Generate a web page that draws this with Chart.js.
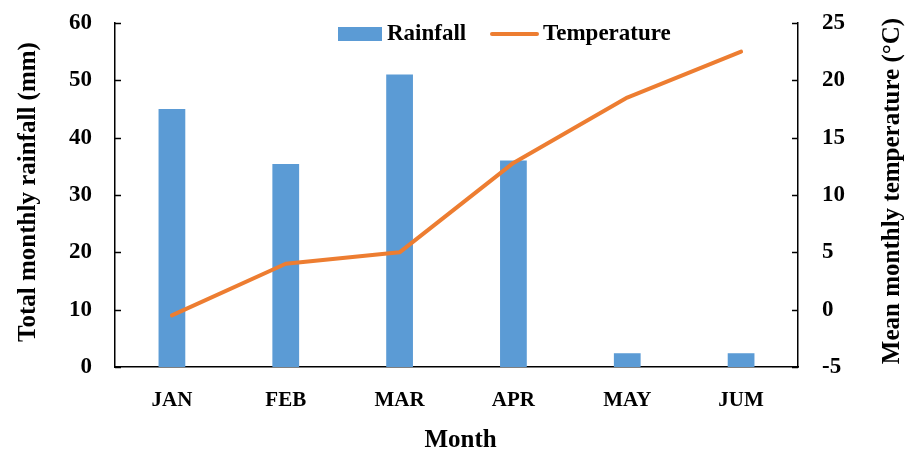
<!DOCTYPE html>
<html>
<head>
<meta charset="utf-8">
<script src="https://cdn.jsdelivr.net/npm/chart.js@4"></script>
<style>
  html, body { margin: 0; padding: 0; background: #fff; }
</style>
</head>
<body>
<canvas id="myChart" width="908" height="455"></canvas>
<script>
// Monthly rainfall (bars, left axis) and mean temperature (line, right axis)
const months = ['JAN', 'FEB', 'MAR', 'APR', 'MAY', 'JUM'];
const rainfall = [45, 35.4, 51, 36, 2.4, 2.4];
const temperature = [-0.5, 4, 5, 12.8, 18.5, 22.5];
const rainTicks = [0, 10, 20, 30, 40, 50, 60];
const tempTicks = [-5, 0, 5, 10, 15, 20, 25];

const FONT = "'Liberation Serif', 'DejaVu Serif', serif";
const BLUE = '#5B9BD5';
const ORANGE = '#ED7D31';

// inward tick marks, axis titles and the legend inside the plot
const decorations = {
    id: 'decorations',
    afterDraw(chart) {
        const ctx = chart.ctx;
        const area = chart.chartArea;
        const y = chart.scales.y;
        const y1 = chart.scales.y1;

        ctx.save();
        ctx.strokeStyle = '#000';
        ctx.lineWidth = 1.5;
        rainTicks.forEach(v => {
            const py = Math.round(y.getPixelForValue(v)) + 0.5;
            ctx.beginPath();
            ctx.moveTo(area.left, py);
            ctx.lineTo(area.left + 6, py);
            ctx.stroke();
        });
        tempTicks.forEach(v => {
            const py = Math.round(y1.getPixelForValue(v)) + 0.5;
            ctx.beginPath();
            ctx.moveTo(area.right - 6, py);
            ctx.lineTo(area.right, py);
            ctx.stroke();
        });

        // axis titles
        ctx.fillStyle = '#000';
        ctx.font = 'bold 25px ' + FONT;
        ctx.textAlign = 'center';
        ctx.textBaseline = 'middle';
        ctx.fillText('Month', (area.left + area.right) / 2 + 4, 441);

        ctx.save();
        ctx.translate(29, 192);
        ctx.rotate(-Math.PI / 2);
        ctx.fillText('Total monthly rainfall (mm)', 0, 0);
        ctx.restore();

        ctx.save();
        ctx.translate(893, 191);
        ctx.rotate(-Math.PI / 2);
        ctx.fillText('Mean monthly temperature (\u00B0C)', 0, 0);
        ctx.restore();

        // legend
        const ds = chart.data.datasets;
        ctx.font = 'bold 23px ' + FONT;
        ctx.textAlign = 'left';
        ctx.fillStyle = ds[1].backgroundColor;
        ctx.fillRect(338, 27, 44, 14);
        ctx.fillStyle = '#000';
        ctx.fillText(ds[1].label, 387, 34);

        ctx.strokeStyle = ds[0].borderColor;
        ctx.lineWidth = 4;
        ctx.lineCap = 'round';
        ctx.beginPath();
        ctx.moveTo(492, 34);
        ctx.lineTo(537, 34);
        ctx.stroke();
        ctx.fillText(ds[0].label, 543, 34);
        ctx.restore();
    }
};

const noOverhang = s => { s.paddingTop = 0; s.paddingBottom = 0; };

const ctx = document.getElementById('myChart').getContext('2d');
const myChart = new Chart(ctx, {
    type: 'bar',
    data: {
        labels: months,
        datasets: [{
            type: 'line',
            label: 'Temperature',
            data: temperature,
            yAxisID: 'y1',
            borderColor: ORANGE,
            backgroundColor: ORANGE,
            borderWidth: 4,
            borderCapStyle: 'round',
            borderJoinStyle: 'round',
            pointRadius: 0,
            tension: 0,
            order: 0
        }, {
            type: 'bar',
            label: 'Rainfall',
            data: rainfall,
            yAxisID: 'y',
            backgroundColor: BLUE,
            categoryPercentage: 1,
            barPercentage: 0.235,
            order: 1
        }]
    },
    options: {
        responsive: false,
        animation: false,
        devicePixelRatio: 1,
        layout: { padding: { top: 23, left: 0, right: 0, bottom: 0 } },
        plugins: {
            legend: { display: false },
            tooltip: { enabled: false }
        },
        scales: {
            x: {
                grid: { display: false, drawTicks: false },
                border: { display: true, color: '#000', width: 1.5 },
                ticks: { color: '#000', padding: 21, font: { family: FONT, size: 21, weight: 'bold' } },
                afterFit: s => { s.height = 88; s.paddingLeft = 0; s.paddingRight = 0; }
            },
            y: {
                position: 'left',
                min: 0,
                max: 60,
                grid: { display: false, drawTicks: false },
                border: { display: true, color: '#000', width: 1.5 },
                ticks: {
                    stepSize: 10,
                    padding: 23,
                    color: '#000',
                    font: { family: FONT, size: 23, weight: 'bold' }
                },
                afterBuildTicks: s => { s.ticks = rainTicks.map(v => ({ value: v })); },
                afterFit: s => { s.width = 115; noOverhang(s); }
            },
            y1: {
                position: 'right',
                min: -5,
                max: 25,
                grid: { display: false, drawTicks: false },
                border: { display: true, color: '#000', width: 1.5 },
                ticks: {
                    stepSize: 5,
                    padding: 24,
                    color: '#000',
                    font: { family: FONT, size: 23, weight: 'bold' }
                },
                afterBuildTicks: s => { s.ticks = tempTicks.map(v => ({ value: v })); },
                afterFit: s => { s.width = 110; noOverhang(s); }
            }
        }
    },
    plugins: [decorations]
});
</script>
</body>
</html>
